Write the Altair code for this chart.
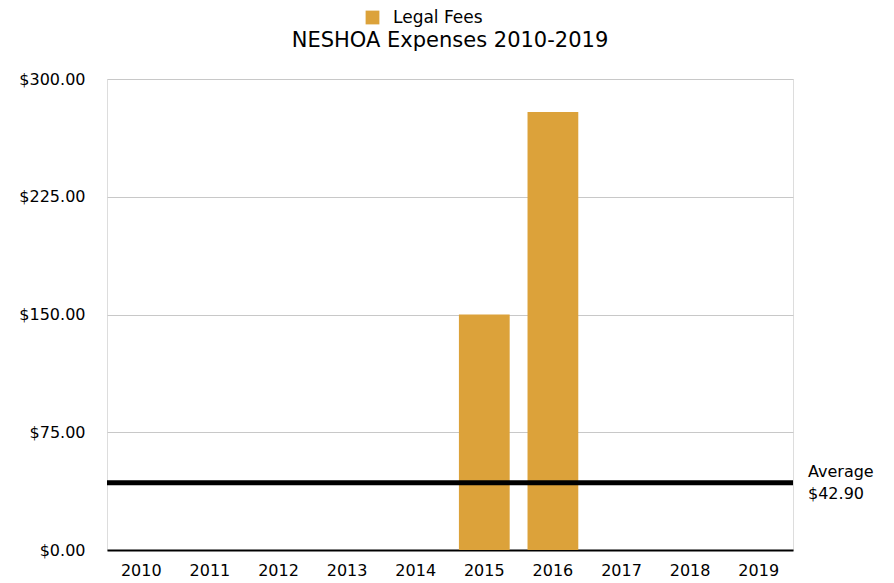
import altair as alt
import pandas as pd

years = ["2010", "2011", "2012", "2013", "2014", "2015", "2016", "2017", "2018", "2019"]
legal_fees = [0, 0, 0, 0, 0, 150, 279, 0, 0, 0]
series_name = "Legal Fees"
average_value = 42.90
average_label = ["Average", "$42.90"]
chart_title = "NESHOA Expenses 2010-2019"

df = pd.DataFrame({"Year": years, "Value": legal_fees, "Series": [series_name] * len(years)})
avg_df = pd.DataFrame({"avg": [average_value], "label": ["\n".join(average_label)]})
title_df = pd.DataFrame({"t": [chart_title]})

FONT = "DejaVu Sans"
W, H = 686, 471

bars = alt.Chart(df).mark_bar(color="#DCA23A").encode(
    x=alt.X("Year:O", sort=years, title=None,
            scale=alt.Scale(paddingInner=0.26, paddingOuter=0.13),
            axis=alt.Axis(labelAngle=0, labelFontSize=16, labelFont=FONT, labelColor="#000",
                          ticks=False, domainColor="#000", domainWidth=2, labelPadding=12)),
    y=alt.Y("Value:Q", title=None,
            scale=alt.Scale(domain=[0, 300]),
            axis=alt.Axis(values=[0, 75, 150, 225, 300], format="$,.2f", labelFontSize=16,
                          labelFont=FONT, labelColor="#000", ticks=False, domain=False,
                          gridColor="#c8c8c8", gridWidth=1, labelPadding=22)),
    color=alt.Color("Series:N", scale=alt.Scale(range=["#DCA23A"]),
                    legend=alt.Legend(title=None, orient="none", legendX=257, legendY=-70,
                                      symbolType="square", symbolSize=190, symbolStrokeWidth=0,
                                      labelOffset=12, labelFontSize=17, labelFont=FONT,
                                      labelColor="#000", symbolOpacity=1)),
)

rule = alt.Chart(avg_df).mark_rule(color="#000", strokeWidth=5).encode(
    y=alt.Y("avg:Q"),
)

label = alt.Chart(avg_df).mark_text(align="left", baseline="middle", fontSize=16, font=FONT,
                                    color="#000", lineBreak="\n", lineHeight=22, dy=-11).encode(
    y=alt.Y("avg:Q"),
    x=alt.value(W + 15),
    text="label:N",
)

title = alt.Chart(title_df).mark_text(align="center", baseline="middle", fontSize=21, font=FONT,
                                      color="#000").encode(
    x=alt.value(W / 2),
    y=alt.value(-38),
    text="t:N",
)

chart = alt.layer(bars, rule, label, title).properties(
    width=W, height=H,
    autosize=alt.AutoSizeParams(type="none"),
    padding={"left": 99, "top": 71, "right": 90, "bottom": 31},
).configure_view(stroke=None).configure(background="white")

chart.save("out.html", embed_options={"renderer": "svg", "actions": False})
